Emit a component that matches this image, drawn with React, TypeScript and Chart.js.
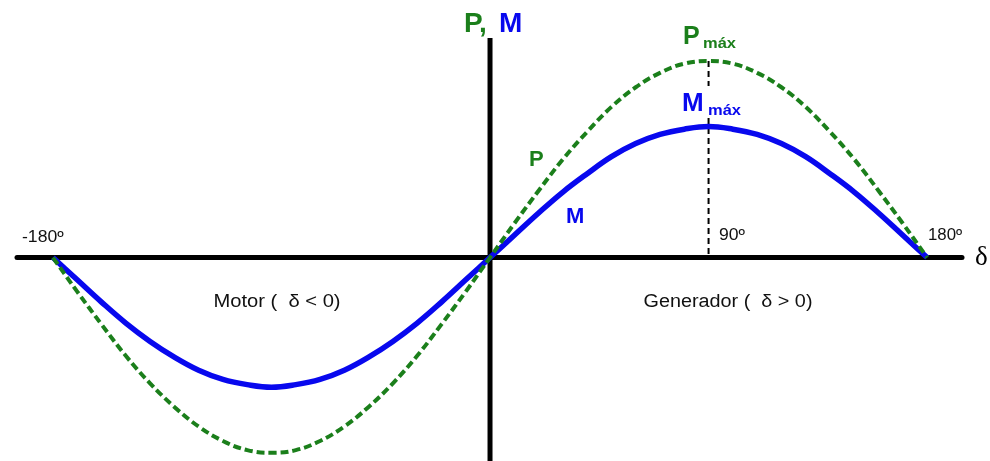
import React, { useEffect, useRef } from "react";
import { Chart, registerables } from "chart.js";

Chart.register(...registerables);

// Angle δ in degrees
const deltaDeg = [
  -180, -170, -160, -150, -140, -130, -120, -110, -100, -90, -80, -70, -60, -50, -40, -30, -20, -10,
  0, 10, 20, 30, 40, 50, 60, 70, 80, 90, 100, 110, 120, 130, 140, 150, 160, 170, 180,
];
// Torque M (blue solid), in units of M max
const torqueM = [
  0, -0.17, -0.34, -0.5, -0.64, -0.76, -0.86, -0.93, -0.97, -0.99, -0.97, -0.93, -0.86, -0.76, -0.64, -0.5, -0.34, -0.17,
  0, 0.17, 0.34, 0.5, 0.64, 0.77, 0.87, 0.94, 0.98, 1.0, 0.98, 0.94, 0.87, 0.77, 0.64, 0.5, 0.34, 0.17, 0,
];
// Power P (green dashed)
const powerP = [
  0, -0.26, -0.51, -0.75, -0.96, -1.14, -1.29, -1.4, -1.47, -1.49, -1.47, -1.4, -1.29, -1.14, -0.96, -0.75, -0.51, -0.26,
  0, 0.26, 0.51, 0.75, 0.96, 1.15, 1.3, 1.41, 1.48, 1.5, 1.48, 1.41, 1.3, 1.15, 0.96, 0.75, 0.51, 0.26, 0,
];
const tickLabels = ["-180º", "90º", "180º"];
const regionLabels = ["Motor (  δ < 0)", "Generador (  δ > 0)"];

const GREEN = "#1b7f1b";
const BLUE = "#0808ee";
const SANS = "'Liberation Sans', Arial, sans-serif";

function stretchedText(ctx: any, text: string, x: number, y: number, sx: number, align: "left" | "center") {
  ctx.save();
  ctx.translate(x, y);
  ctx.scale(sx, 1);
  ctx.textAlign = align;
  ctx.fillText(text, 0, 0);
  ctx.restore();
}

const annotations = {
  id: "annotations",
  beforeDatasetsDraw(chart: any) {
    const ctx = chart.ctx;
    const xs = chart.scales.x;
    const ys = chart.scales.y;
    const x0 = xs.getPixelForValue(0);
    const y0 = ys.getPixelForValue(0);
    ctx.save();
    ctx.strokeStyle = "#000";
    ctx.lineWidth = 5;
    // horizontal axis
    ctx.lineCap = "round";
    ctx.beginPath();
    ctx.moveTo(17, y0);
    ctx.lineTo(962, y0);
    ctx.stroke();
    // vertical axis
    ctx.lineCap = "butt";
    ctx.beginPath();
    ctx.moveTo(x0, 38);
    ctx.lineTo(x0, 461);
    ctx.stroke();
    // dashed line at 90º
    const x90 = xs.getPixelForValue(90);
    const yP = ys.getPixelForValue(1.5);
    ctx.lineWidth = 2;
    ctx.setLineDash([6, 4]);
    ctx.beginPath();
    ctx.moveTo(x90, yP);
    ctx.lineTo(x90, 86);
    ctx.moveTo(x90, 118);
    ctx.lineTo(x90, y0);
    ctx.stroke();
    ctx.restore();
  },
  afterDatasetsDraw(chart: any) {
    const ctx = chart.ctx;
    ctx.save();
    ctx.textBaseline = "alphabetic";
    ctx.textAlign = "left";
    // P, M title
    ctx.font = `bold 28px ${SANS}`;
    ctx.fillStyle = GREEN;
    ctx.fillText("P,", 464, 32);
    ctx.fillStyle = BLUE;
    ctx.fillText("M", 499, 32);
    // Pmáx
    ctx.fillStyle = GREEN;
    ctx.font = `bold 25px ${SANS}`;
    ctx.fillText("P", 683, 44);
    ctx.font = `bold 15px ${SANS}`;
    stretchedText(ctx, "máx", 703, 48, 1.1, "left");
    // Mmáx
    ctx.fillStyle = BLUE;
    ctx.font = `bold 26px ${SANS}`;
    ctx.fillText("M", 682, 111);
    ctx.font = `bold 15px ${SANS}`;
    stretchedText(ctx, "máx", 708, 115, 1.1, "left");
    // curve labels
    ctx.font = `bold 22px ${SANS}`;
    ctx.fillStyle = GREEN;
    ctx.fillText("P", 529, 166);
    ctx.fillStyle = BLUE;
    ctx.fillText("M", 566, 223);
    // tick labels
    ctx.fillStyle = "#111";
    ctx.font = `16px ${SANS}`;
    stretchedText(ctx, tickLabels[0], 22, 242, 1.1, "left");
    stretchedText(ctx, tickLabels[1], 719, 240, 1.1, "left");
    stretchedText(ctx, tickLabels[2], 928, 240, 1.05, "left");
    // region labels
    ctx.font = `18px ${SANS}`;
    stretchedText(ctx, regionLabels[0], 277, 307, 1.12, "center");
    stretchedText(ctx, regionLabels[1], 728, 307, 1.1, "center");
    // delta symbol
    ctx.textAlign = "left";
    ctx.fillStyle = "#000";
    ctx.font = `27px 'Liberation Serif', 'DejaVu Serif', serif`;
    ctx.fillText("δ", 975, 265);
    ctx.restore();
  },
};

export default function App() {
  const ref = useRef<HTMLCanvasElement>(null);
  useEffect(() => {
    if (!ref.current) return;
    const chart = new Chart(ref.current, {
      type: "line",
      data: {
        datasets: [
          {
            label: "P",
            data: deltaDeg.map((d, i) => ({ x: d, y: powerP[i] })),
            borderColor: GREEN,
            borderWidth: 4,
            borderDash: [8, 4],
            pointRadius: 0,
            tension: 0.4,
            fill: false,
          },
          {
            label: "M",
            data: deltaDeg.map((d, i) => ({ x: d, y: torqueM[i] })),
            borderColor: BLUE,
            borderWidth: 5.5,
            pointRadius: 0,
            tension: 0.4,
            fill: false,
          },
        ],
      },
      options: {
        animation: false,
        responsive: false,
        devicePixelRatio: 1,
        layout: { padding: 0 },
        plugins: { legend: { display: false }, tooltip: { enabled: false } },
        scales: {
          x: { type: "linear", min: -201.8, max: 205.9, display: false },
          y: { type: "linear", min: -1.553, max: 1.966, display: false },
        },
      },
      plugins: [annotations],
    });
    return () => chart.destroy();
  }, []);
  return (
    <div style={{ position: "fixed", left: 0, top: 0, width: 990, height: 461, background: "#fff" }}>
      <canvas ref={ref} width={990} height={461} />
    </div>
  );
}
